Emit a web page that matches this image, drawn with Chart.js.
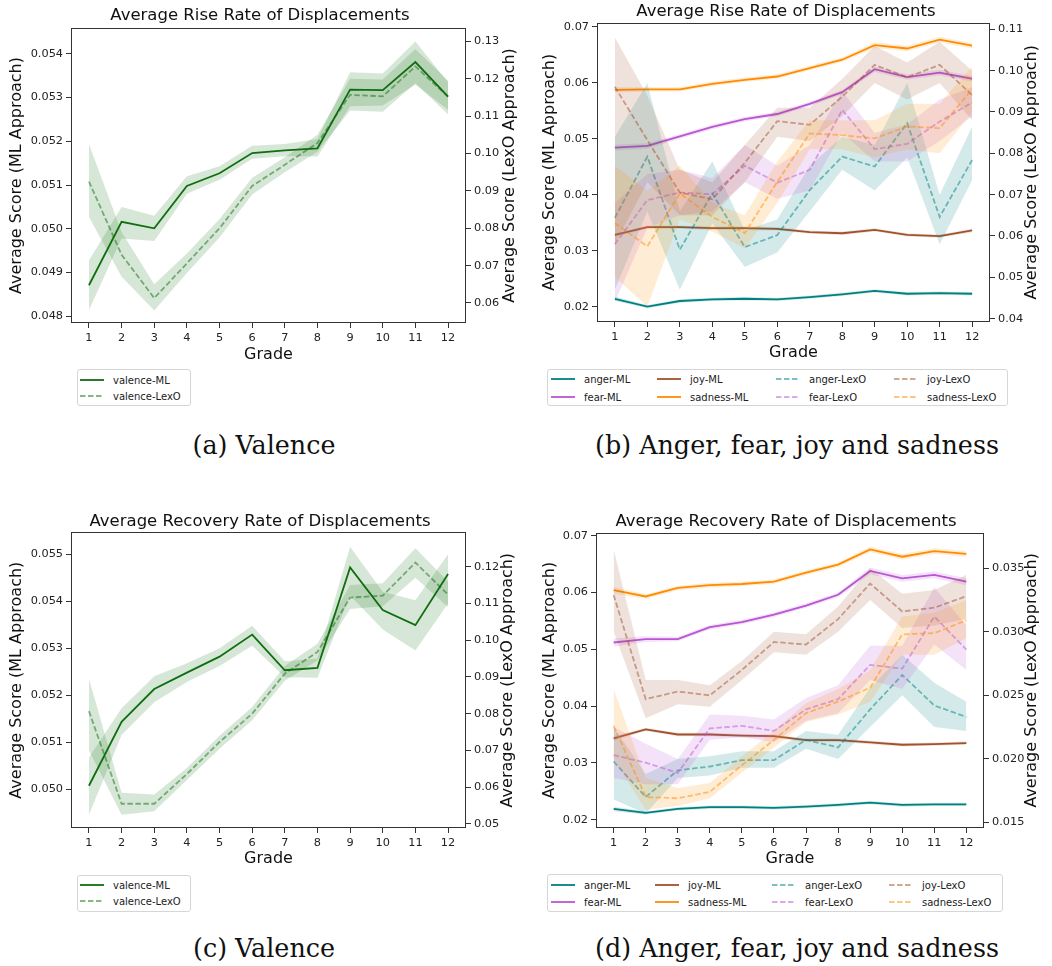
<!DOCTYPE html>
<html>
<head>
<meta charset="utf-8">
<script src="https://cdn.jsdelivr.net/npm/chart.js@4.4.1/dist/chart.umd.min.js"></script>
<style>
  body { margin: 0; background: #fff; }
  #fig { position: relative; width: 1052px; height: 966px; font-family: "DejaVu Sans", sans-serif; }
  canvas { position: absolute; display: block; }
  .legend { position: absolute; border: 1px solid #d6d6d6; border-radius: 3px; background: #fff; box-sizing: border-box; }
  .item { position: absolute; height: 16px; display: flex; align-items: center; font-size: 10px; color: #222; white-space: nowrap; }
  .caption { position: absolute; width: 500px; text-align: center; font-family: "DejaVu Serif", serif; font-size: 25.4px; color: #111; line-height: 30px; }
</style>
</head>
<body>
<div id="fig">
  <canvas id="chartA" width="520" height="365" style="left:0;top:0"></canvas>
  <canvas id="chartB" width="532" height="365" style="left:520px;top:0"></canvas>
  <canvas id="chartC" width="520" height="370" style="left:0;top:500px"></canvas>
  <canvas id="chartD" width="532" height="370" style="left:520px;top:500px"></canvas>
  <div class="legend" id="legA" style="left:77px;top:369px;width:114px;height:37px"></div>
  <div class="legend" id="legB" style="left:547px;top:369px;width:461px;height:37px"></div>
  <div class="legend" id="legC" style="left:77px;top:875px;width:114px;height:37px"></div>
  <div class="legend" id="legD" style="left:547px;top:874px;width:456px;height:38px"></div>
  <div class="caption" style="left:14px;top:430px">(a) Valence</div>
  <div class="caption" style="left:547px;top:430px">(b) Anger, fear, joy and sadness</div>
  <div class="caption" style="left:14px;top:933px">(c) Valence</div>
  <div class="caption" style="left:547px;top:933px">(d) Anger, fear, joy and sadness</div>
</div>
<script>
const grades = [1, 2, 3, 4, 5, 6, 7, 8, 9, 10, 11, 12]

// (a) rise rate, valence
const riseValML   = [0.04871, 0.05016, 0.05001, 0.05098, 0.05127, 0.05173, 0.05179, 0.05184, 0.05318, 0.05317, 0.05381, 0.05302]
const riseValMLLo = [0.04814, 0.04978, 0.04972, 0.05080, 0.05112, 0.05160, 0.05166, 0.05165, 0.05280, 0.05282, 0.05330, 0.05272]
const riseValMLHi = [0.04928, 0.05050, 0.05030, 0.05120, 0.05143, 0.05190, 0.05194, 0.05205, 0.05358, 0.05355, 0.05428, 0.05335]
const riseValLex   = [0.0925, 0.0729, 0.0613, 0.0706, 0.0800, 0.0913, 0.0970, 0.1028, 0.1157, 0.1153, 0.1233, 0.1152]
const riseValLexLo = [0.0830, 0.0670, 0.0580, 0.0680, 0.0775, 0.0890, 0.0950, 0.1005, 0.1115, 0.1112, 0.1188, 0.1105]
const riseValLexHi = [0.1025, 0.0790, 0.0650, 0.0732, 0.0825, 0.0935, 0.0990, 0.1050, 0.1200, 0.1198, 0.1280, 0.1195]

// (c) recovery rate, valence
const recValML   = [0.05007, 0.05143, 0.05213, 0.05248, 0.05282, 0.05329, 0.05253, 0.05258, 0.05472, 0.05381, 0.05349, 0.05458]
const recValMLLo = [0.04945, 0.05115, 0.05185, 0.05228, 0.05262, 0.05305, 0.05238, 0.05237, 0.05412, 0.05340, 0.05295, 0.05395]
const recValMLHi = [0.05067, 0.05172, 0.05240, 0.05268, 0.05300, 0.05348, 0.05272, 0.05278, 0.05516, 0.05420, 0.05402, 0.05500]
const recValLex   = [0.0807, 0.0555, 0.0555, 0.0636, 0.0723, 0.0800, 0.0909, 0.0968, 0.1116, 0.1121, 0.1211, 0.1124]
const recValLexLo = [0.0700, 0.0525, 0.0535, 0.0620, 0.0705, 0.0782, 0.0890, 0.0945, 0.1085, 0.1092, 0.1170, 0.1090]
const recValLexHi = [0.0895, 0.0585, 0.0580, 0.0652, 0.0740, 0.0818, 0.0930, 0.0990, 0.1150, 0.1155, 0.1250, 0.1160]

// (b) rise rate, emotions - ML
const riseAngerML   = [0.0214, 0.0200, 0.0210, 0.0213, 0.0214, 0.0213, 0.0217, 0.0222, 0.0228, 0.0223, 0.0224, 0.0223]
const riseAngerMLLo = [0.0210, 0.0197, 0.0207, 0.0210, 0.0211, 0.0210, 0.0214, 0.0219, 0.0225, 0.0220, 0.0221, 0.0220]
const riseAngerMLHi = [0.0218, 0.0203, 0.0213, 0.0216, 0.0217, 0.0216, 0.0220, 0.0225, 0.0231, 0.0226, 0.0227, 0.0226]
const riseFearML   = [0.0484, 0.0487, 0.0504, 0.0521, 0.0535, 0.0544, 0.0562, 0.0583, 0.0624, 0.0610, 0.0618, 0.0607]
const riseFearMLLo = [0.0479, 0.0482, 0.0500, 0.0517, 0.0531, 0.0540, 0.0558, 0.0579, 0.0619, 0.0605, 0.0613, 0.0602]
const riseFearMLHi = [0.0489, 0.0492, 0.0508, 0.0525, 0.0539, 0.0548, 0.0566, 0.0587, 0.0629, 0.0615, 0.0623, 0.0612]
const riseJoyML   = [0.0328, 0.0342, 0.0342, 0.0340, 0.0340, 0.0339, 0.0333, 0.0331, 0.0337, 0.0328, 0.0326, 0.0336]
const riseJoyMLLo = [0.0325, 0.0339, 0.0339, 0.0337, 0.0337, 0.0336, 0.0330, 0.0328, 0.0334, 0.0325, 0.0323, 0.0333]
const riseJoyMLHi = [0.0331, 0.0345, 0.0345, 0.0343, 0.0343, 0.0342, 0.0336, 0.0334, 0.0340, 0.0331, 0.0329, 0.0339]
const riseSadML   = [0.0587, 0.0588, 0.0588, 0.0598, 0.0605, 0.0611, 0.0626, 0.0641, 0.0667, 0.0661, 0.0677, 0.0666]
const riseSadMLLo = [0.0582, 0.0584, 0.0584, 0.0594, 0.0601, 0.0607, 0.0622, 0.0637, 0.0662, 0.0656, 0.0672, 0.0661]
const riseSadMLHi = [0.0592, 0.0592, 0.0592, 0.0602, 0.0609, 0.0615, 0.0630, 0.0645, 0.0672, 0.0666, 0.0682, 0.0671]

// (b) rise rate, emotions - LexO
const riseAngerLex   = [0.0644, 0.0792, 0.0567, 0.0703, 0.0573, 0.0602, 0.0711, 0.0792, 0.0768, 0.0873, 0.0646, 0.0784]
const riseAngerLexLo = [0.047, 0.066, 0.047, 0.063, 0.0525, 0.056, 0.066, 0.076, 0.071, 0.079, 0.058, 0.0735]
const riseAngerLexHi = [0.084, 0.097, 0.066, 0.078, 0.0614, 0.064, 0.077, 0.084, 0.082, 0.097, 0.070, 0.0865]
const riseFearLex   = [0.0580, 0.0687, 0.0705, 0.0701, 0.0770, 0.0729, 0.0760, 0.0905, 0.0810, 0.0823, 0.0877, 0.0923]
const riseFearLexLo = [0.044, 0.062, 0.065, 0.066, 0.073, 0.069, 0.071, 0.085, 0.078, 0.078, 0.083, 0.089]
const riseFearLexHi = [0.068, 0.075, 0.076, 0.074, 0.082, 0.077, 0.082, 0.095, 0.085, 0.087, 0.093, 0.096]
const riseJoyLex   = [0.0961, 0.0832, 0.0705, 0.0689, 0.0777, 0.0878, 0.0869, 0.0937, 0.1014, 0.0984, 0.1014, 0.0941]
const riseJoyLexLo = [0.058, 0.073, 0.065, 0.065, 0.073, 0.084, 0.083, 0.089, 0.097, 0.093, 0.097, 0.088]
const riseJoyLexHi = [0.108, 0.094, 0.076, 0.073, 0.082, 0.091, 0.091, 0.098, 0.106, 0.102, 0.107, 0.100]
const riseSadLex   = [0.0631, 0.0575, 0.0703, 0.0646, 0.0607, 0.0731, 0.0848, 0.0844, 0.0836, 0.0865, 0.0861, 0.0955]
const riseSadLexLo = [0.050, 0.043, 0.064, 0.061, 0.057, 0.068, 0.081, 0.081, 0.079, 0.081, 0.080, 0.090]
const riseSadLexHi = [0.077, 0.071, 0.077, 0.068, 0.065, 0.078, 0.088, 0.088, 0.088, 0.092, 0.092, 0.101]

// (d) recovery rate, emotions - ML
const recAngerML   = [0.0219, 0.0212, 0.0219, 0.0222, 0.0222, 0.0221, 0.0223, 0.0226, 0.0230, 0.0226, 0.0227, 0.0227]
const recAngerMLLo = [0.0215, 0.0209, 0.0216, 0.0219, 0.0219, 0.0218, 0.0220, 0.0223, 0.0227, 0.0223, 0.0224, 0.0224]
const recAngerMLHi = [0.0223, 0.0215, 0.0222, 0.0225, 0.0225, 0.0224, 0.0226, 0.0229, 0.0233, 0.0229, 0.0230, 0.0230]
const recFearML   = [0.0512, 0.0518, 0.0518, 0.0539, 0.0548, 0.0561, 0.0577, 0.0596, 0.0638, 0.0625, 0.0631, 0.0619]
const recFearMLLo = [0.0505, 0.0513, 0.0514, 0.0535, 0.0544, 0.0557, 0.0573, 0.0592, 0.0632, 0.0619, 0.0625, 0.0613]
const recFearMLHi = [0.0519, 0.0523, 0.0522, 0.0543, 0.0552, 0.0565, 0.0581, 0.0600, 0.0644, 0.0631, 0.0637, 0.0625]
const recJoyML   = [0.0343, 0.0359, 0.0350, 0.0350, 0.0348, 0.0347, 0.0340, 0.0340, 0.0336, 0.0332, 0.0333, 0.0335]
const recJoyMLLo = [0.0339, 0.0356, 0.0347, 0.0347, 0.0345, 0.0344, 0.0337, 0.0337, 0.0333, 0.0329, 0.0330, 0.0332]
const recJoyMLHi = [0.0347, 0.0362, 0.0353, 0.0353, 0.0351, 0.0350, 0.0343, 0.0343, 0.0339, 0.0335, 0.0336, 0.0338]
const recSadML   = [0.0604, 0.0593, 0.0608, 0.0613, 0.0615, 0.0619, 0.0635, 0.0649, 0.0676, 0.0663, 0.0673, 0.0668]
const recSadMLLo = [0.0598, 0.0589, 0.0604, 0.0609, 0.0611, 0.0615, 0.0631, 0.0645, 0.0671, 0.0658, 0.0668, 0.0663]
const recSadMLHi = [0.0610, 0.0597, 0.0612, 0.0617, 0.0619, 0.0623, 0.0639, 0.0653, 0.0681, 0.0668, 0.0678, 0.0673]

// (d) recovery rate, emotions - LexO
const recAngerLex   = [0.0198, 0.0170, 0.0191, 0.0194, 0.0199, 0.0199, 0.0215, 0.0209, 0.0239, 0.0266, 0.0242, 0.0233]
const recAngerLexLo = [0.0168, 0.0157, 0.0185, 0.0187, 0.0193, 0.0193, 0.0208, 0.0200, 0.0225, 0.0250, 0.0225, 0.0222]
const recAngerLexHi = [0.0225, 0.0188, 0.0200, 0.0202, 0.0206, 0.0206, 0.0222, 0.0219, 0.0256, 0.0282, 0.0260, 0.0245]
const recFearLex   = [0.0203, 0.0197, 0.0189, 0.0224, 0.0226, 0.0222, 0.0239, 0.0247, 0.0274, 0.0271, 0.0312, 0.0286]
const recFearLexLo = [0.0185, 0.0180, 0.0180, 0.0215, 0.0217, 0.0213, 0.0230, 0.0236, 0.0262, 0.0255, 0.0290, 0.0270]
const recFearLexHi = [0.0225, 0.0212, 0.0200, 0.0235, 0.0234, 0.0231, 0.0248, 0.0258, 0.0289, 0.0289, 0.0335, 0.0305]
const recJoyLex   = [0.0329, 0.0247, 0.0253, 0.0250, 0.0270, 0.0292, 0.0290, 0.0310, 0.0338, 0.0316, 0.0319, 0.0328]
const recJoyLexLo = [0.0300, 0.0232, 0.0243, 0.0241, 0.0262, 0.0284, 0.0282, 0.0300, 0.0325, 0.0303, 0.0305, 0.0310]
const recJoyLexHi = [0.0365, 0.0262, 0.0262, 0.0258, 0.0277, 0.0300, 0.0298, 0.0320, 0.0350, 0.0330, 0.0333, 0.0345]
const recSadLex   = [0.0226, 0.0170, 0.0169, 0.0174, 0.0195, 0.0215, 0.0236, 0.0245, 0.0256, 0.0298, 0.0299, 0.0309]
const recSadLexLo = [0.0200, 0.0160, 0.0163, 0.0169, 0.0189, 0.0209, 0.0229, 0.0235, 0.0245, 0.0282, 0.0282, 0.0295]
const recSadLexHi = [0.0255, 0.0185, 0.0177, 0.0181, 0.0202, 0.0222, 0.0244, 0.0255, 0.0270, 0.0312, 0.0315, 0.0325]

// colours (r,g,b)
const cValence = [15, 110, 15]
const cAnger = [0, 128, 128]
const cFear = [186, 85, 211]
const cJoy = [160, 82, 45]
const cSad = [255, 140, 0]

const rgba = (c, a) => `rgba(${c[0]},${c[1]},${c[2]},${a})`
const DASH = [5.5, 2.5]

Chart.defaults.font.family = '"DejaVu Sans", sans-serif'
Chart.defaults.color = '#222'

// box round the plot area + right axis label that reads bottom to top
const framePlugin = {
    id: 'frame',
    afterDraw(chart, args, opts) {
        const { ctx, chartArea: a } = chart
        ctx.save()
        ctx.strokeStyle = '#333'
        ctx.lineWidth = 1
        ctx.strokeRect(Math.round(a.left) + 0.5, Math.round(a.top) + 0.5, Math.round(a.right - a.left) - 1, Math.round(a.bottom - a.top) - 1)
        ctx.translate(opts.rightLabelX, (a.top + a.bottom) / 2)
        ctx.rotate(-Math.PI / 2)
        ctx.font = '16px "DejaVu Sans"'
        ctx.fillStyle = '#111'
        ctx.textAlign = 'center'
        ctx.textBaseline = 'middle'
        ctx.fillText(opts.rightLabel, 0, 0)
        ctx.restore()
    }
}

function makeSeries(label, color, dashed, axis, mean, lo, hi) {
    return { label, color, dashed, axis, mean, lo, hi }
}

function makePanel(cfg) {
    const pts = arr => grades.map((g, i) => ({ x: g, y: arr[i] }))
    const datasets = []
    cfg.series.forEach(s => {
        const lineColor = s.dashed ? rgba(s.color, 0.5) : rgba(s.color, 1)
        datasets.push({ data: pts(s.lo), yAxisID: s.axis, borderWidth: 0, pointRadius: 0, fill: false })
        datasets.push({ data: pts(s.hi), yAxisID: s.axis, borderWidth: 0, pointRadius: 0, fill: '-1', backgroundColor: rgba(s.color, 0.17) })
        datasets.push({
            label: s.label, data: pts(s.mean), yAxisID: s.axis, borderColor: lineColor,
            borderWidth: 1.8, borderDash: s.dashed ? DASH : [], pointRadius: 0, fill: false
        })
    })
    // first pushed is drawn first (bottom)
    datasets.forEach((d, i) => { d.order = -i; d.tension = 0 })

    const tickGrid = { drawOnChartArea: false, drawTicks: true, tickLength: 5, color: '#333' }
    new Chart(document.getElementById(cfg.id), {
        type: 'line',
        data: { datasets },
        plugins: [framePlugin],
        options: {
            responsive: false,
            animation: false,
            events: [],
            layout: { padding: { top: cfg.padTop, left: 0, right: 0, bottom: 0 } },
            plugins: {
                legend: { display: false },
                tooltip: { enabled: false },
                title: {
                    display: true, text: cfg.title, color: '#111',
                    font: { size: 16.5, weight: 'normal' }, padding: { top: 0, bottom: cfg.titleGap }
                },
                frame: { rightLabel: 'Average Score (LexO Approach)', rightLabelX: cfg.rightLabelX }
            },
            scales: {
                x: {
                    type: 'linear', min: 0.45, max: 12.55,
                    ticks: { stepSize: 1, includeBounds: false, maxTicksLimit: 30, font: { size: 11.3 }, color: '#222', padding: 3, callback: v => v },
                    grid: tickGrid, border: { display: false },
                    title: { display: true, text: 'Grade', color: '#111', font: { size: 16 }, padding: { top: 0, bottom: cfg.gradeGap } },
                    afterFit: s => { s.height = cfg.xH }
                },
                yL: {
                    type: 'linear', position: 'left', min: cfg.left[0], max: cfg.left[1],
                    ticks: { stepSize: cfg.left[2], includeBounds: false, maxTicksLimit: 30, font: { size: 11.3 }, color: '#222', padding: 3, callback: v => v.toFixed(cfg.left[3]) },
                    grid: tickGrid, border: { display: false },
                    title: { display: true, text: 'Average Score (ML Approach)', color: '#111', font: { size: 16 }, padding: { top: cfg.leftGap, bottom: 0 } },
                    afterFit: s => { s.width = cfg.leftW }
                },
                yR: {
                    type: 'linear', position: 'right', min: cfg.right[0], max: cfg.right[1],
                    ticks: { stepSize: cfg.right[2], includeBounds: false, maxTicksLimit: 30, font: { size: 11.3 }, color: '#222', padding: 3, callback: v => v.toFixed(cfg.right[3]) },
                    grid: tickGrid, border: { display: false },
                    afterFit: s => { s.width = cfg.rightW }
                }
            }
        }
    })
}

function makeLegend(id, series, colX, rowY, textGap) {
    const el = document.getElementById(id)
    series.forEach((s, i) => {
        const col = Math.floor(i / 2), row = i % 2 // column-major like matplotlib
        const item = document.createElement('div')
        item.className = 'item'
        item.style.left = colX[col] + 'px'
        item.style.top = (rowY[row] - 8) + 'px'
        const stroke = s.dashed ? rgba(s.color, 0.5) : rgba(s.color, 1)
        const dash = s.dashed ? `stroke-dasharray="${DASH.join(',')}"` : ''
        item.innerHTML = `<svg width="24" height="4" style="margin-right:${textGap}px"><line x1="0" y1="2" x2="24" y2="2" stroke="${stroke}" stroke-width="1.8" ${dash}/></svg>${s.label}`
        el.appendChild(item)
    })
}

const valRise = [
    makeSeries('valence-ML', cValence, false, 'yL', riseValML, riseValMLLo, riseValMLHi),
    makeSeries('valence-LexO', cValence, true, 'yR', riseValLex, riseValLexLo, riseValLexHi)
]
const valRec = [
    makeSeries('valence-ML', cValence, false, 'yL', recValML, recValMLLo, recValMLHi),
    makeSeries('valence-LexO', cValence, true, 'yR', recValLex, recValLexLo, recValLexHi)
]
const emoRise = [
    makeSeries('anger-ML', cAnger, false, 'yL', riseAngerML, riseAngerMLLo, riseAngerMLHi),
    makeSeries('fear-ML', cFear, false, 'yL', riseFearML, riseFearMLLo, riseFearMLHi),
    makeSeries('joy-ML', cJoy, false, 'yL', riseJoyML, riseJoyMLLo, riseJoyMLHi),
    makeSeries('sadness-ML', cSad, false, 'yL', riseSadML, riseSadMLLo, riseSadMLHi),
    makeSeries('anger-LexO', cAnger, true, 'yR', riseAngerLex, riseAngerLexLo, riseAngerLexHi),
    makeSeries('fear-LexO', cFear, true, 'yR', riseFearLex, riseFearLexLo, riseFearLexHi),
    makeSeries('joy-LexO', cJoy, true, 'yR', riseJoyLex, riseJoyLexLo, riseJoyLexHi),
    makeSeries('sadness-LexO', cSad, true, 'yR', riseSadLex, riseSadLexLo, riseSadLexHi)
]
const emoRec = [
    makeSeries('anger-ML', cAnger, false, 'yL', recAngerML, recAngerMLLo, recAngerMLHi),
    makeSeries('fear-ML', cFear, false, 'yL', recFearML, recFearMLLo, recFearMLHi),
    makeSeries('joy-ML', cJoy, false, 'yL', recJoyML, recJoyMLLo, recJoyMLHi),
    makeSeries('sadness-ML', cSad, false, 'yL', recSadML, recSadMLLo, recSadMLHi),
    makeSeries('anger-LexO', cAnger, true, 'yR', recAngerLex, recAngerLexLo, recAngerLexHi),
    makeSeries('fear-LexO', cFear, true, 'yR', recFearLex, recFearLexLo, recFearLexHi),
    makeSeries('joy-LexO', cJoy, true, 'yR', recJoyLex, recJoyLexLo, recJoyLexHi),
    makeSeries('sadness-LexO', cSad, true, 'yR', recSadLex, recSadLexLo, recSadLexHi)
]

makePanel({
    id: 'chartA', title: 'Average Rise Rate of Displacements', series: valRise,
    padTop: 5.6, titleGap: 2.6, leftW: 71, rightW: 54, xH: 42, gradeGap: 1.0, leftGap: 7.4, rightLabelX: 510,
    left: [0.047847, 0.054589, 0.001, 3], right: [0.05463, 0.13359, 0.01, 2]
})
makePanel({
    id: 'chartB', title: 'Average Rise Rate of Displacements', series: emoRise,
    padTop: 1.6, titleGap: 1.3, leftW: 77, rightW: 62, xH: 43, gradeGap: 3.0, leftGap: 20.4, rightLabelX: 512,
    left: [0.01725, 0.07071, 0.01, 2], right: [0.03918, 0.11161, 0.01, 2]
})
makePanel({
    id: 'chartC', title: 'Average Recovery Rate of Displacements', series: valRec,
    padTop: 11.6, titleGap: 0.9, leftW: 71, rightW: 54, xH: 42, gradeGap: 2.0, leftGap: 7.4, rightLabelX: 508,
    left: [0.04917, 0.055468, 0.001, 3], right: [0.04891, 0.12935, 0.01, 2]
})
makePanel({
    id: 'chartD', title: 'Average Recovery Rate of Displacements', series: emoRec,
    padTop: 11.6, titleGap: 1.3, leftW: 76, rightW: 68, xH: 42, gradeGap: 2.0, leftGap: 20.4, rightLabelX: 512,
    left: [0.01854, 0.07053, 0.01, 2], right: [0.01456, 0.0378, 0.005, 3]
})

makeLegend('legA', valRise, [2], [10, 26], 9)
makeLegend('legC', valRec, [2], [9, 25], 9)
makeLegend('legB', emoRise, [3, 109, 228, 346], [9, 27], 9)
makeLegend('legD', emoRec, [3, 107, 224, 341], [10, 27], 9)
</script>
</body>
</html>
